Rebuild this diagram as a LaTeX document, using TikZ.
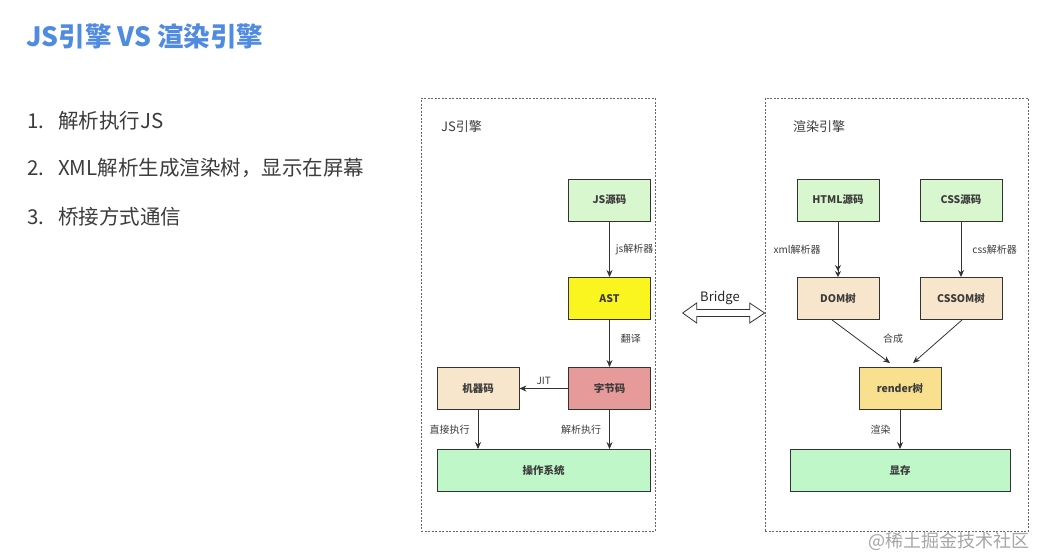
\documentclass[tikz,border=0pt]{standalone}
\usepackage{fontspec}
\setmainfont{Noto Sans CJK SC}
\usetikzlibrary{arrows.meta,calc}
\definecolor{titleblue}{HTML}{4F8BE0}
\definecolor{txtgray}{HTML}{3C3C3C}
\definecolor{lgreen}{HTML}{D9F7CF}
\definecolor{mgreen}{HTML}{BFF7C9}
\definecolor{astyellow}{HTML}{FAF51E}
\definecolor{bytered}{HTML}{E69A9A}
\definecolor{beige}{HTML}{F8E6CC}
\definecolor{rendery}{HTML}{F8E08E}
\definecolor{lnc}{HTML}{333333}
\tikzset{
  box/.style={draw=lnc, line width=0.9pt, minimum width=82pt, minimum height=42pt, inner sep=0pt, font=\fontsize{10.5}{12}\selectfont\bfseries, text=txtgray},
  widebox/.style={box, minimum width=#1},
  frame/.style={draw=black!60, line width=0.7pt, dash pattern=on 2pt off 1.5pt, inner sep=0pt},
  arr/.style={draw=lnc, line width=0.8pt, -{Stealth[length=7pt,width=6pt]}},
  lbl/.style={font=\fontsize{10}{11}\selectfont, text=txtgray, inner sep=1pt},
  item/.style={anchor=west, font=\fontsize{20.5}{24}\selectfont, text=txtgray, inner sep=0pt}
}
\begin{document}
\begin{tikzpicture}[x=1pt,y=-1pt]
\useasboundingbox (0,0) rectangle (1044,555);
\fill[white] (0,0) rectangle (1044,555);
% title and list
\node[anchor=west, inner sep=0pt, font=\fontsize{26.5}{30}\selectfont\bfseries, text=titleblue] (title) at (26,36) {JS引擎 VS 渲染引擎};
\node[item] (n1) at (27,121) {1.};
\node[item] (t1) at (58,121) {解析执行JS};
\node[item] (n2) at (27,168) {2.};
\node[item] (t2) at (58,168) {XML解析生成渲染树，显示在屏幕};
\node[item] (n3) at (27,217) {3.};
\node[item] (t3) at (58,217) {桥接方式通信};
% frames
\node[frame, minimum width=234pt, minimum height=433pt] (jsbox) at (538,314.5) {};
\node[frame, minimum width=263pt, minimum height=433pt] (rbox) at (896.5,314.5) {};
\node[anchor=west, inner sep=0pt, font=\fontsize{13}{14}\selectfont, text=txtgray] (jslab) at (441,127) {JS引擎};
\node[anchor=west, inner sep=0pt, font=\fontsize{13}{14}\selectfont, text=txtgray] (rlab) at (793,127) {渲染引擎};
% JS engine nodes
\node[box, fill=lgreen] (jssrc) at (609.5,200) {JS源码};
\node[box, fill=astyellow] (ast) at (609.5,298.5) {AST};
\node[box, fill=bytered] (byte) at (609.5,388.5) {字节码};
\node[box, fill=beige] (mach) at (478,388.5) {机器码};
\node[widebox=213pt, fill=mgreen] (os) at (543.5,470.5) {操作系统};
\draw[arr] (jssrc) -- node[lbl, right=5pt] {js解析器} (ast);
\draw[arr] (ast) -- node[lbl, right=10pt, pos=0.4] {翻译} (byte);
\draw[arr] (byte) -- node[lbl, above=2pt] {JIT} (mach);
\draw[arr] (mach) -- node[lbl, left=7pt] {直接执行} (mach |- os.north);
\draw[arr] (byte) -- node[lbl, left=7pt] {解析执行} (byte |- os.north);
% render engine nodes
\node[box, fill=lgreen] (html) at (838,200) {HTML源码};
\node[box, fill=lgreen] (css) at (961,200) {CSS源码};
\node[box, fill=beige] (dom) at (838,298.5) {DOM树};
\node[box, fill=beige] (cssom) at (961,298.5) {CSSOM树};
\node[box, fill=rendery] (render) at (900,388.5) {render树};
\node[widebox=220pt, fill=mgreen] (vram) at (900,470.5) {显存};
\draw[draw=lnc, line width=0.8pt, -{Stealth[length=6pt,width=6pt] Stealth[length=6pt,width=6pt]}] (html) -- node[lbl, left=16pt] {xml解析器} (dom);
\draw[arr] (css) -- node[lbl, right=10pt] {css解析器} (cssom);
\draw[arr] ($(dom.south)+(-6,0)$) -- ($(render.north)+(-10,-4)$);
\draw[arr] ($(cssom.south)+(1,0)$) -- ($(render.north)+(13,-4)$);
\node[lbl] (hecheng) at (893,339) {合成};
\draw[arr] (render) -- node[lbl, left=8pt] {渲染} (vram);
% bridge
\coordinate (bR) at ($(rbox.west)+(0,-1.5)$);
\coordinate (bL) at ($(bR)+(-82,0)$);
\draw[lnc, line width=0.8pt, fill=white]
  (bL) -- ++(14,-10) -- ++(0,6.5) -- ($(bR)+(-15,-3.5)$) -- ++(0,-6.5) -- (bR)
  -- ++(-15,10) -- ++(0,-6.5) -- ($(bL)+(14,3.5)$) -- ++(0,6.5) -- cycle;
\node[font=\fontsize{13}{14}\selectfont, text=black!85, inner sep=0pt] (bridge) at (720,298) {Bridge};
% watermark
\node[anchor=east, inner sep=0pt, font=\fontsize{18}{20}\selectfont, text=black!35] (wm) at (1030,541) {@稀土掘金技术社区};
\end{tikzpicture}
\end{document}
